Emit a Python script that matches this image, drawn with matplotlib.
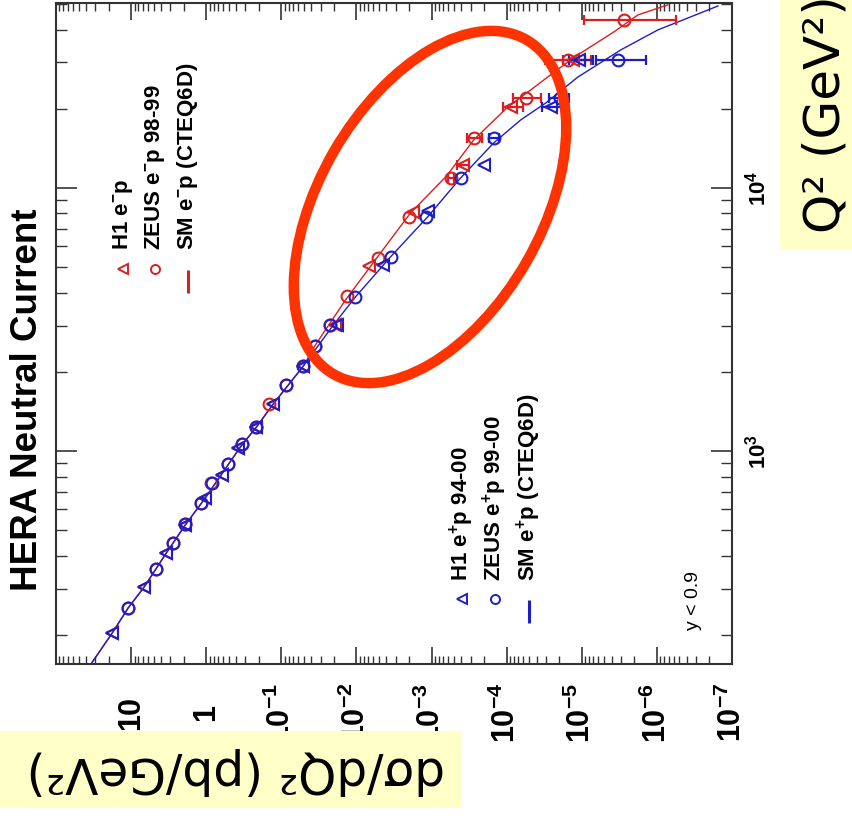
import numpy as np
import matplotlib
matplotlib.use("Agg")
import matplotlib.pyplot as plt
import matplotlib.ticker as ticker
from matplotlib.patches import Ellipse, Rectangle

# H1 e+p 94-00 (Q2 in GeV2, dsigma/dQ2 in pb/GeV2)
h1_pos_q2 = [203, 304, 409, 523, 663, 811, 1026, 1233, 1510, 2104, 3013, 5090, 8180, 12230, 20300, 30700]
h1_pos_xs = [17.9, 6.71, 3.41, 1.905, 1.03, 0.612, 0.374, 0.215, 0.128, 0.0509, 0.0179,
             4.37e-3, 1.13e-3, 2.03e-4, 2.6e-5, 1.10e-5]
h1_pos_elo = [0] * 14 + [0.85e-5, 0.39e-5]
h1_pos_ehi = [0] * 14 + [0.77e-5, 0.39e-5]

# ZEUS e+p 99-00
zeus_pos_q2 = [253, 356, 447, 530, 634, 755, 893, 1064, 1233, 1783, 2104, 2506, 3013, 3855,
               5470, 7760, 10920, 15500, 21970, 30700]
zeus_pos_xs = [10.96, 4.64, 2.75, 1.9, 1.17, 0.832, 0.509, 0.331, 0.215, 0.0858, 0.0509, 0.0352,
               0.0222, 0.0103, 3.52e-3, 1.2e-3, 4.1e-4, 1.49e-4, 1.96e-5, 3.31e-6]
zeus_pos_elo = [0] * 17 + [0.21e-4, 0.47e-5, 1.9e-6]
zeus_pos_ehi = [0] * 17 + [0.25e-4, 0.79e-5, 3.2e-6]

# H1 e-p
h1_neg_q2 = [203, 304, 409, 523, 663, 811, 1026, 1233, 1510, 2104, 3013, 5050, 8110, 12230, 20300, 30700]
h1_neg_xs = [18.2, 6.8, 3.45, 1.93, 1.05, 0.62, 0.38, 0.218, 0.13, 0.052, 0.0195,
             6.8e-3, 1.74e-3, 3.86e-4, 8.85e-5, 1.32e-5]
h1_neg_elo = [0] * 13 + [0.65e-4, 2.7e-5, 0.41e-5]
h1_neg_ehi = [0] * 13 + [0.78e-4, 2.4e-5, 0.47e-5]

# ZEUS e-p 98-99
zeus_neg_q2 = [253, 356, 447, 530, 634, 755, 893, 1064, 1233, 1510, 1783, 2104, 2506, 3013,
               3882, 5420, 7760, 10920, 15500, 21970, 30700, 43550]
zeus_neg_xs = [11.1, 4.7, 2.78, 1.93, 1.19, 0.86, 0.515, 0.335, 0.218, 0.1445, 0.087, 0.052,
               0.036, 0.0228, 0.0132, 5.09e-3, 1.97e-3, 5.58e-4, 2.75e-4, 5.58e-5, 1.54e-5, 2.75e-6]
zeus_neg_elo = [0] * 17 + [0.5e-4, 0.6e-4, 2.06e-5, 7.8e-6, 2.19e-6]
zeus_neg_ehi = [0] * 17 + [0.55e-4, 0.66e-4, 2.7e-5, 1.57e-5, 6.65e-6]

# Standard Model (CTEQ6D) curves
sm_pos_q2 = [155, 203, 253, 304, 409, 523, 663, 1035, 1233, 1510, 2104, 3013, 3855, 5470, 7760,
             10920, 14830, 18150, 21040, 26400, 33500, 39900, 44300, 49200]
sm_pos_xs = [34.2, 17.9, 10.96, 6.71, 3.41, 1.905, 1.03, 0.352, 0.215, 0.128, 0.0509, 0.0203,
             0.0103, 3.52e-3, 1.13e-3, 4.1e-4, 1.49e-4, 6.5e-5, 3.02e-5, 1.13e-5, 3.02e-6,
             9.7e-7, 3.86e-7, 1.54e-7]
sm_neg_q2 = [155, 203, 253, 304, 409, 523, 663, 1035, 1233, 1510, 2104, 2530, 3750, 5660, 8030,
             11110, 15230, 20300, 23600, 28800, 32600, 39200, 45500, 49700]
sm_neg_xs = [34.2, 17.9, 10.96, 6.71, 3.41, 1.905, 1.03, 0.352, 0.215, 0.128, 0.0509, 0.0352,
             0.014, 4.79e-3, 1.91e-3, 6.31e-4, 2.75e-4, 9.7e-5, 4.79e-5, 1.9e-5, 1.03e-5,
             3.74e-6, 1.79e-6, 7.13e-7]

xs_ticks = [1e1, 1e0, 1e-1, 1e-2, 1e-3, 1e-4, 1e-5, 1e-6, 1e-7]
xs_tick_labels = ["10", "1", "$10^{-1}$", "$10^{-2}$", "$10^{-3}$", "$10^{-4}$",
                  "$10^{-5}$", "$10^{-6}$", "$10^{-7}$"]
q2_ticks = [1e3, 1e4]
q2_tick_labels = ["$10^{3}$", "$10^{4}$"]

RED = "#dc1e1e"
BLUE = "#1e1ec8"

plt.rcParams["font.family"] = ["Liberation Sans", "DejaVu Sans"]
plt.rcParams["mathtext.fontset"] = "custom"
plt.rcParams["mathtext.rm"] = "Liberation Sans:bold"
plt.rcParams["mathtext.it"] = "Liberation Sans:bold"
plt.rcParams["mathtext.bf"] = "Liberation Sans:bold"
plt.rcParams["mathtext.default"] = "rm"

W, H = 853, 816
fig = plt.figure(figsize=(W / 100, H / 100), dpi=100)
ax = fig.add_axes([56 / W, 1 - 664 / H, 676 / W, 661 / H])


def px2ax(px, py):
    # pixel position in the picture -> axes fraction
    return (px - 56) / 676, (664 - py) / 661


ax.set_xscale("log")
ax.set_yscale("log")

# theory curves
ax.plot(sm_neg_xs, sm_neg_q2, color=RED, lw=1.0, zorder=2)
ax.plot(sm_pos_xs, sm_pos_q2, color=BLUE, lw=1.0, zorder=2)


def draw_points(xs, q2, elo, ehi, marker, color, ms):
    xs, q2 = np.asarray(xs), np.asarray(q2)
    elo, ehi = np.asarray(elo), np.asarray(ehi)
    has = (elo > 0) | (ehi > 0)
    ax.errorbar(xs[has], q2[has], xerr=[elo[has], ehi[has]], fmt="none", ecolor=color,
                elinewidth=1.6, capsize=3.5, capthick=1.6, zorder=3)
    ax.plot(xs, q2, linestyle="none", marker=marker, ms=ms, mfc="none", mec=color,
            mew=1.5, zorder=4)


draw_points(zeus_neg_xs, zeus_neg_q2, zeus_neg_elo, zeus_neg_ehi, "o", RED, 8.5)
draw_points(h1_neg_xs, h1_neg_q2, h1_neg_elo, h1_neg_ehi, "<", RED, 8.5)
draw_points(h1_pos_xs, h1_pos_q2, h1_pos_elo, h1_pos_ehi, "<", BLUE, 8.5)
draw_points(zeus_pos_xs, zeus_pos_q2, zeus_pos_elo, zeus_pos_ehi, "o", BLUE, 8.5)

ax.set_xlim(1e2, 1e-7)
ax.set_ylim(155, 5.05e4)

# ticks: inward on all four sides
ax.tick_params(axis="x", which="both", direction="in", top=True, bottom=True, pad=35,
               colors="#333333")
ax.tick_params(axis="x", which="major", length=12, width=1.2)
ax.tick_params(axis="x", which="minor", length=6, width=1.0)
ax.tick_params(axis="y", which="both", direction="in", left=True, right=True,
               labelleft=False, labelright=True, pad=9, colors="#333333")
ax.tick_params(axis="y", which="major", length=15, width=1.2)
ax.tick_params(axis="y", which="minor", length=8, width=1.0)

ax.xaxis.set_major_locator(ticker.FixedLocator(xs_ticks))
ax.xaxis.set_minor_locator(ticker.LogLocator(base=10, subs=np.arange(2, 10), numticks=40))
ax.xaxis.set_minor_formatter(ticker.NullFormatter())
ax.set_xticklabels(xs_tick_labels, rotation=90, va="center", ha="center",
                   fontsize=22, fontweight="bold", color="black")

ax.yaxis.set_major_locator(ticker.FixedLocator(q2_ticks))
ax.yaxis.set_minor_locator(ticker.LogLocator(base=10, subs=np.arange(2, 10), numticks=40))
ax.yaxis.set_minor_formatter(ticker.NullFormatter())
ax.set_yticklabels(q2_tick_labels, rotation=90, va="center", ha="left",
                   fontsize=16, color="black")

for s in ax.spines.values():
    s.set_color("#333333")
    s.set_linewidth(1.5)

# legends (rotated, drawn by hand)
red_entries = [("H1 e$^{-}$p", "<", 123),
               ("ZEUS e$^{-}$p 98-99", "o", 155),
               ("SM e$^{-}$p (CTEQ6D)", "line", 188)]
blue_entries = [("H1 e$^{+}$p 94-00", "<", 462),
                ("ZEUS e$^{+}$p 99-00", "o", 495),
                ("SM e$^{+}$p (CTEQ6D)", "line", 529)]

for entries, color, mark_y, text_y in [(red_entries, RED, 269, 250),
                                       (blue_entries, BLUE, 599, 581)]:
    for label, kind, px in entries:
        if kind == "line":
            x0, y0 = px2ax(px, mark_y + 1)
            x1, y1 = px2ax(px, mark_y + 24)
            ax.plot([x0, x1], [y0, y1], color=color, lw=2.2, transform=ax.transAxes,
                    solid_capstyle="butt")
        else:
            mx, my = px2ax(px, mark_y)
            ax.plot([mx], [my], marker=kind, ms=6.5, mfc="none", mec=color, mew=1.4,
                    transform=ax.transAxes)
        tx, ty = px2ax(px, text_y)
        ax.text(tx, ty, label, rotation=90, ha="center", va="bottom", fontsize=16,
                fontweight="bold", transform=ax.transAxes)

tx, ty = px2ax(694, 630)
ax.text(tx, ty, "y < 0.9", rotation=90, ha="center", va="bottom", fontsize=14,
        transform=ax.transAxes)

fig.text(28 / W, 1 - 400 / H, "HERA Neutral Current", rotation=90, ha="center",
         va="center", fontsize=26.5, fontweight="bold")

# yellow label boxes
fig.add_artist(Rectangle((0, 1 - 808 / H), 462 / W, 77 / H, transform=fig.transFigure,
                         facecolor="#ffffc8", edgecolor="none", zorder=5))
fig.text(236 / W, 1 - 771 / H, "dσ/dQ² (pb/GeV²)", rotation=180, ha="center",
         va="center", fontsize=35, family="DejaVu Sans", zorder=6)
fig.add_artist(Rectangle((780 / W, 1 - 250 / H), 73 / W, 250 / H, transform=fig.transFigure,
                         facecolor="#ffffc8", edgecolor="none", zorder=5))
fig.text(826 / W, 1 - 233 / H, "Q² (GeV²)", rotation=90, ha="center", va="bottom",
         fontsize=36, family="DejaVu Sans", zorder=6)

# red highlight ellipse
fig.add_artist(Ellipse((4.30, (H - 207) / 100), 3.86, 2.22, angle=60,
                       transform=fig.dpi_scale_trans, fill=False, edgecolor="#ff3300",
                       lw=7.5, zorder=10))

fig.savefig("out.png", dpi=100, facecolor="white")
